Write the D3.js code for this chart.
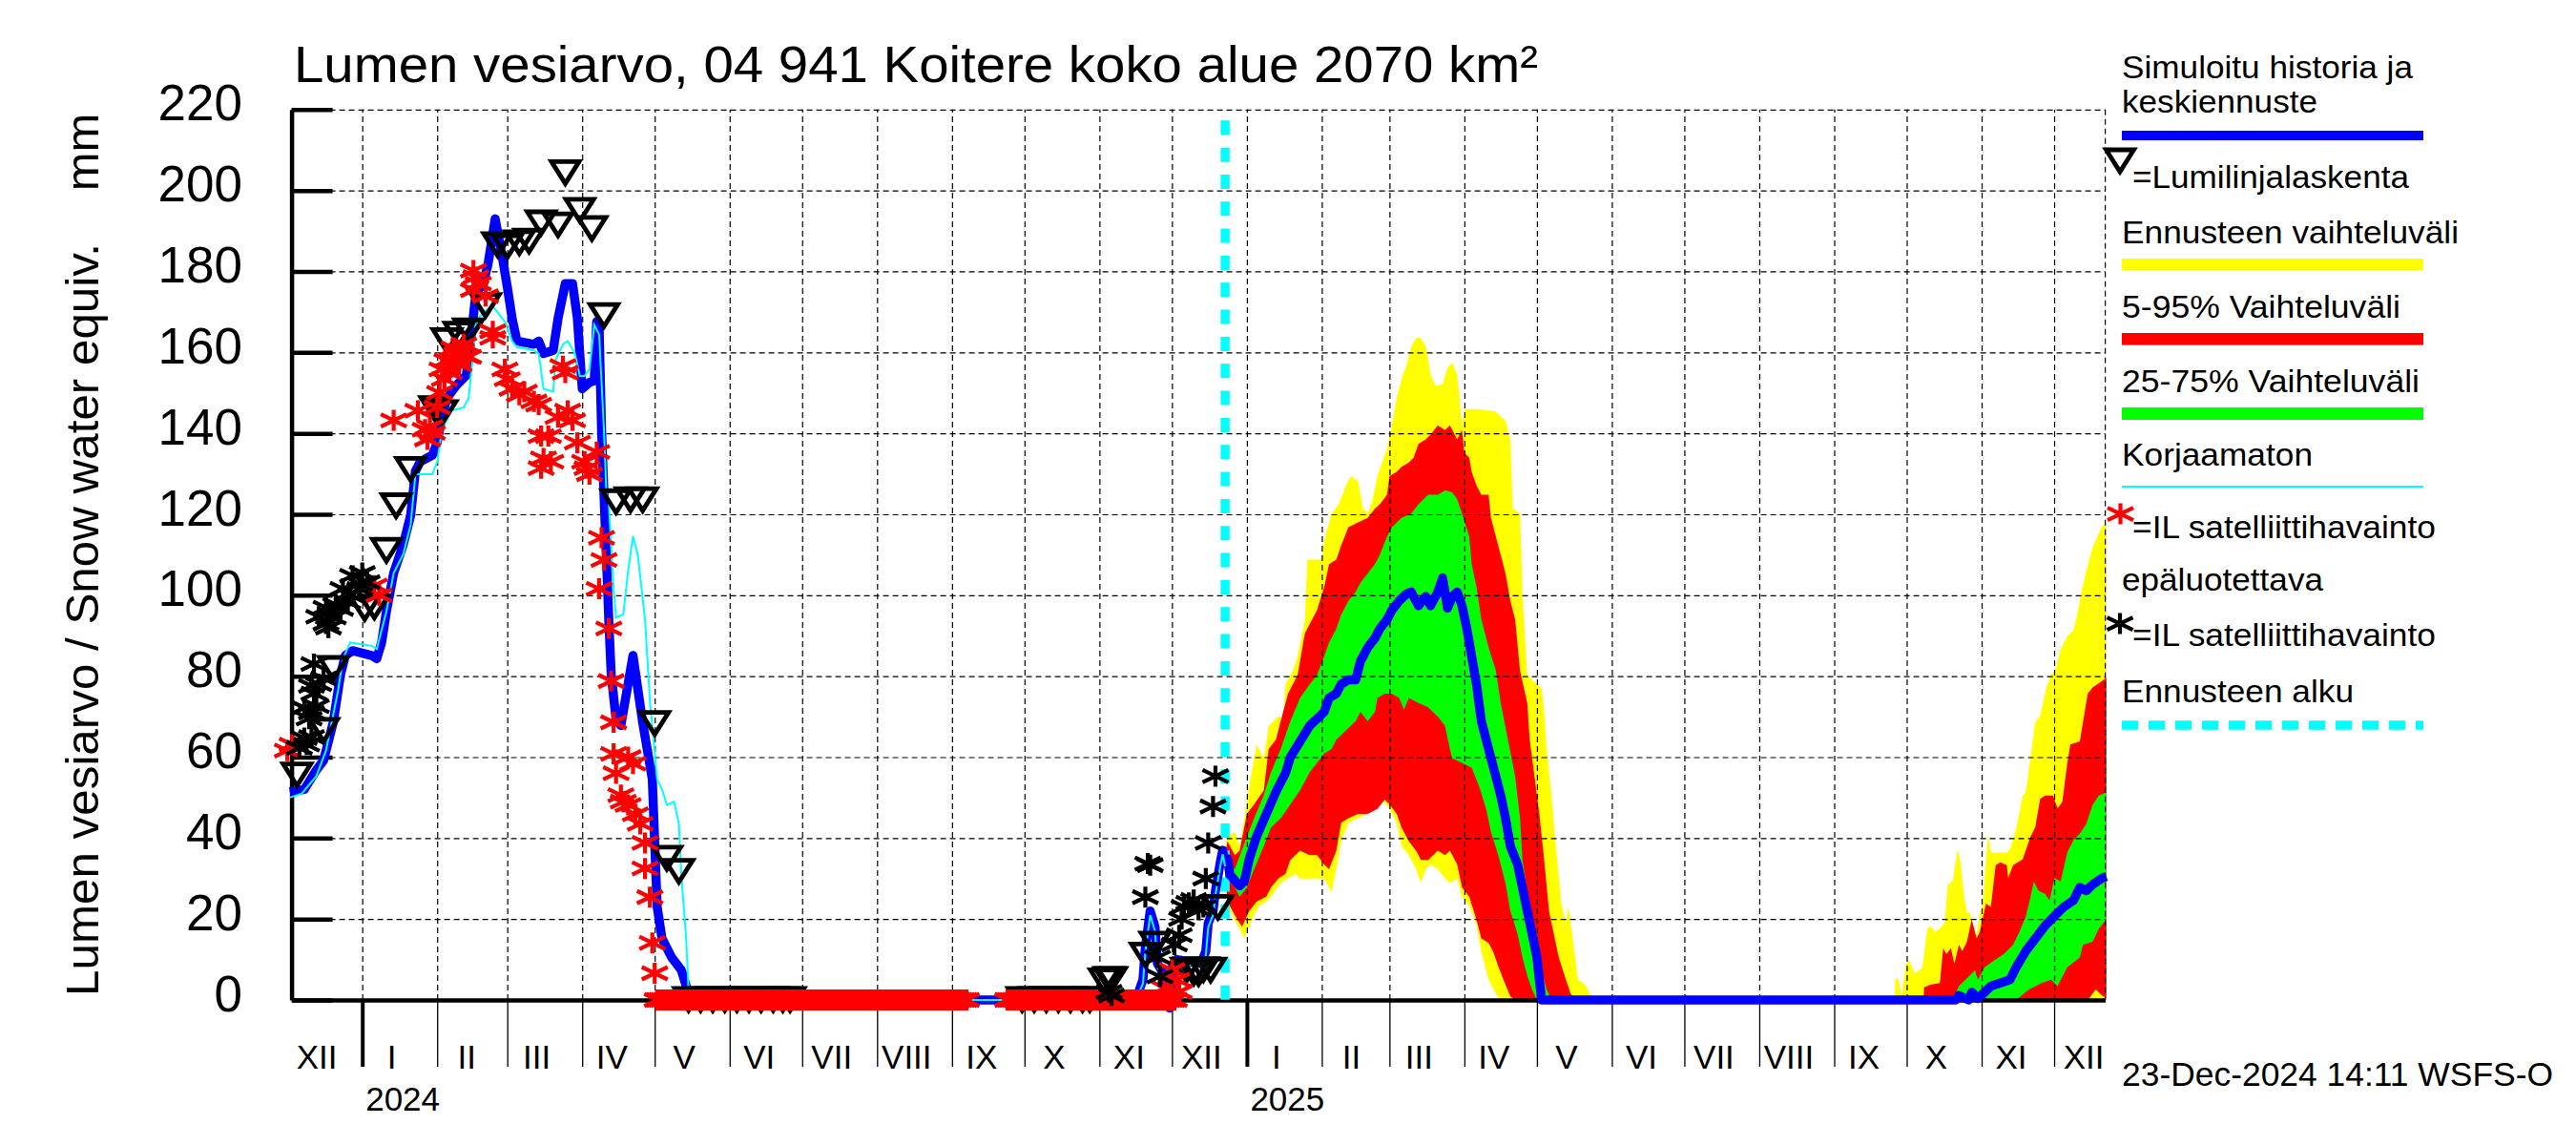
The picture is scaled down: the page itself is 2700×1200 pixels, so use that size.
<!DOCTYPE html>
<html><head><meta charset="utf-8">
<script src="https://cdn.jsdelivr.net/npm/d3@7"></script>
<style>
html,body{margin:0;padding:0;background:#fff;}
svg{display:block;background:#fff;}
text{font-family:"Liberation Sans",Arial,Helvetica,sans-serif;fill:#000;}
</style></head><body>
<svg id="chart" width="2700" height="1200"></svg>
<script>
// ---------------- DATA ----------------
const titleText = "Lumen vesiarvo, 04 941 Koitere koko alue 2070 km²";
const yAxisTitle = "Lumen vesiarvo / Snow water equiv.";
const yAxisUnit = "mm";
const yTicks = [0,20,40,60,80,100,120,140,160,180,200,220];
const monthLabels = ["XII","I","II","III","IV","V","VI","VII","VIII","IX","X","XI","XII","I","II","III","IV","V","VI","VII","VIII","IX","X","XI","XII"];
const yearLabels = [["2024-01-01","2024"],["2025-01-01","2025"]];
const forecastStart = "2024-12-23";
const stampText = "23-Dec-2024 14:11 WSFS-O";

// simulated history (blue)
const simHistory = [
["2023-12-02",51.4],["2023-12-08",52],["2023-12-13",56.8],["2023-12-16",59.2],["2023-12-20",68.6],["2023-12-23",80.4],["2023-12-25",85.1],["2023-12-28",86.3],["2024-01-05",85.1],["2024-01-07",84.3],["2024-01-09",88.3],["2024-01-11",96],["2024-01-14",105.5],["2024-01-18",112.6],["2024-01-21",119.7],["2024-01-23",130.7],["2024-01-25",133],["2024-01-30",134.6],["2024-02-01",137.7],["2024-02-03",144],["2024-02-05",148.7],["2024-02-09",151.9],["2024-02-13",154.3],["2024-02-14",158.1],["2024-02-16",169.1],["2024-02-17",174.6],["2024-02-20",177],["2024-02-22",181.7],["2024-02-25",193],["2024-02-28",183.3],["2024-03-01",176.2],["2024-03-03",168.4],["2024-03-05",162.8],["2024-03-12",162],["2024-03-14",162.8],["2024-03-16",159.7],["2024-03-20",160.5],["2024-03-22",168.4],["2024-03-25",177],["2024-03-28",177],["2024-03-30",168.4],["2024-04-01",151],["2024-04-04",152.6],["2024-04-06",153],["2024-04-07",167.6],["2024-04-08",166],["2024-04-09",140.9],["2024-04-10",125],["2024-04-11",109.5],["2024-04-12",93.8],["2024-04-13",80.4],["2024-04-15",69.4],["2024-04-17",67.8],["2024-04-22",85.1],["2024-04-26",68.6],["2024-04-30",54.5],["2024-05-01",38.8],["2024-05-02",23.1],["2024-05-04",15.2],["2024-05-08",10.5],["2024-05-12",7.4],["2024-05-14",3.5],["2024-05-15",1.9],["2024-05-17",0],["2024-11-16",0],["2024-11-19",5],["2024-11-20",13],["2024-11-22",22],["2024-11-24",18],["2024-11-25",9],["2024-11-28",6],["2024-11-30",-2],["2024-12-01",8],["2024-12-03",10],["2024-12-13",9],["2024-12-15",12],["2024-12-16",19],["2024-12-18",22],["2024-12-19",27],["2024-12-21",34],["2024-12-22",37],["2024-12-23",33]
];
// uncorrected (cyan)
const uncorrected = [
["2023-12-02",50],["2023-12-07",51],["2023-12-13",55.3],["2023-12-17",61.6],["2023-12-22",76.5],["2023-12-24",84.3],["2023-12-27",88.3],["2024-01-05",87.5],["2024-01-07",86.7],["2024-01-09",91.4],["2024-01-11",96],["2024-01-14",105.5],["2024-01-18",110.2],["2024-01-21",117.3],["2024-01-23",129.9],["2024-01-30",129.9],["2024-02-01",133],["2024-02-03",140.9],["2024-02-07",145.6],["2024-02-12",146.4],["2024-02-14",148.7],["2024-02-16",160.5],["2024-02-17",167.6],["2024-02-20",169.9],["2024-02-22",170.7],["2024-02-24",171.5],["2024-02-26",169.9],["2024-02-29",167.6],["2024-03-03",162.8],["2024-03-05",161.3],["2024-03-12",160.5],["2024-03-14",159.7],["2024-03-16",151],["2024-03-20",150.3],["2024-03-21",158.1],["2024-03-24",162],["2024-03-26",162.8],["2024-03-29",159.7],["2024-03-31",154.2],["2024-04-02",154.2],["2024-04-04",155.8],["2024-04-06",166.8],["2024-04-08",164.4],["2024-04-10",140.9],["2024-04-11",125.2],["2024-04-12",122.8],["2024-04-14",101.6],["2024-04-15",94.5],["2024-04-18",95.3],["2024-04-20",106],["2024-04-22",114.6],["2024-04-24",110],["2024-04-27",94],["2024-04-29",74.1],["2024-05-02",54.5],["2024-05-04",52.1],["2024-05-06",48.2],["2024-05-09",49],["2024-05-11",43.5],["2024-05-12",30.9],["2024-05-14",15.2],["2024-05-15",2.7],["2024-05-16",0],["2024-11-16",0],["2024-11-19",4],["2024-11-20",12],["2024-11-22",21],["2024-11-24",17],["2024-11-25",8],["2024-11-28",5],["2024-11-30",-1],["2024-12-01",8],["2024-12-03",9],["2024-12-13",8.5],["2024-12-15",11],["2024-12-16",18],["2024-12-18",21],["2024-12-19",26],["2024-12-21",33],["2024-12-22",36],["2024-12-23",33]
];
// snow line calculation (triangles)
const snowLine = [
["2023-12-05",55.5],["2023-12-16",66.5],["2023-12-20",81.8],["2024-01-02",96.6],["2024-01-06",97],["2024-01-11",111],["2024-01-15",122],["2024-01-21",131],["2024-01-31",146],["2024-02-03",145],["2024-02-05",162.8],["2024-02-10",164.4],["2024-02-14",165.2],["2024-02-21",171.5],["2024-02-26",186.5],["2024-03-01",186],["2024-03-06",187],["2024-03-10",187.4],["2024-03-15",191.9],["2024-03-22",191.4],["2024-03-25",204.3],["2024-03-31",195],["2024-04-05",190.5],["2024-04-10",169],["2024-04-15",123],["2024-04-21",123.5],["2024-04-26",123.5],["2024-05-01",68.2],["2024-05-06",34.9],["2024-05-11",31.7],
["2024-05-15",0],["2024-05-20",0],["2024-05-25",0],["2024-05-30",0],["2024-06-04",0],["2024-06-09",0],["2024-06-14",0],["2024-06-19",0],["2024-06-23",0],["2024-06-26",0],
["2024-09-30",0],["2024-10-05",0],["2024-10-10",0],["2024-10-15",0],["2024-10-20",0],["2024-10-25",0],["2024-10-28",0],
["2024-11-03",4.6],["2024-11-05",5],["2024-11-06",5],["2024-11-20",11],["2024-11-24",13.7],["2024-12-07",7.3],["2024-12-10",6.6],["2024-12-12",6.4],["2024-12-14",7.4],["2024-12-17",7.3],["2024-12-20",22.8]
];
// IL satellite observations (red)
const ilSatellite = [
["2023-12-01",61.6],["2023-12-03",63.1],["2024-01-06",102.4],["2024-01-08",100],
["2024-01-14",143.2],["2024-01-24",145.6],["2024-01-27",140.9],["2024-01-28",138.5],["2024-01-29",141.6],["2024-01-30",140.1],["2024-02-01",146.4],["2024-02-02",150],["2024-02-03",155.8],["2024-02-04",153.4],["2024-02-05",158],["2024-02-06",155],["2024-02-07",158.1],["2024-02-08",161],["2024-02-09",159.7],["2024-02-10",157],["2024-02-11",160.5],["2024-02-12",162],["2024-02-13",159],["2024-02-14",158.9],["2024-02-16",175.4],["2024-02-16",180.2],["2024-02-17",178.6],["2024-02-18",177],["2024-02-21",173.9],["2024-02-24",165.2],["2024-02-24",163.6],["2024-02-29",155.8],["2024-03-01",153.4],["2024-03-03",151],["2024-03-06",149.5],["2024-03-08",150.3],["2024-03-12",147.9],["2024-03-14",147.1],["2024-03-15",139.3],["2024-03-18",139.3],["2024-03-16",133.8],["2024-03-19",133],["2024-03-15",131.4],["2024-03-22",144],["2024-03-26",145.6],["2024-03-28",143.2],["2024-03-24",156.6],["2024-03-25",155],["2024-03-30",137.7],["2024-04-02",133],["2024-04-03",131.4],["2024-04-07",135.4],["2024-04-04",129.9],["2024-04-08",101.6],["2024-04-09",114.2],["2024-04-10",108.7],["2024-04-12",91.8],["2024-04-13",78.8],["2024-04-14",68.6],["2024-04-14",60.8],["2024-04-20",60],["2024-04-22",58.4],["2024-04-15",56],["2024-04-17",50.6],["2024-04-18",49],["2024-04-20",48.2],["2024-04-23",45.9],["2024-04-25",43.5],["2024-04-27",38.8],["2024-04-27",32.5],["2024-04-29",25.4],["2024-04-30",14.1],["2024-05-01",6.6],
["2024-11-28",3],["2024-12-01",7.4],["2024-12-03",5],["2024-12-04",2]
];
// periods with daily IL satellite observation = 0
const ilSatelliteZeroPeriods = [["2024-05-02","2024-09-07"],["2024-09-24","2024-12-02"]];
// IL satellite, unreliable (black)
const ilSatelliteUnreliable = [
["2023-12-06",62.3],["2023-12-08",64.7],["2023-12-08",72.2],["2023-12-09",63.1],["2023-12-10",69.5],["2023-12-11",65],["2023-12-11",71],["2023-12-11",77.6],["2023-12-12",75.7],["2023-12-12",83],["2023-12-13",72.6],["2023-12-14",78],["2023-12-14",94.7],["2023-12-16",79.4],["2023-12-17",93],["2023-12-17",96.9],["2023-12-18",92],["2023-12-20",94.5],["2023-12-21",97.7],["2023-12-23",96.6],["2023-12-24",101.6],["2023-12-26",98.3],["2023-12-27",100],["2023-12-28",104.8],["2023-12-31",101.6],["2023-12-31",102.8],["2024-01-01",105.5],["2024-01-03",103.2],
["2024-11-05",2],["2024-11-06",1.1],["2024-11-20",25.4],["2024-11-21",33.7],["2024-11-22",33.3],["2024-11-25",10.5],["2024-11-26",5.8],["2024-12-02",13.7],["2024-12-04",16],["2024-12-05",20],["2024-12-06",23],["2024-12-08",24],["2024-12-10",24.7],["2024-12-12",22.3],["2024-12-14",23],["2024-12-15",30],["2024-12-16",38.8],["2024-12-18",47.8],["2024-12-19",55.3]
];
// forecast: [day since 2025-01-01, value]
const fcMax = [[-9,38],[-8,40.3],[-5,41.5],[-3,38],[-1,44.9],[1,52.9],[4,63.2],[7,59.7],[9,67.7],[13,70],[15,70],[16,78],[19,81.4],[21,84.9],[24,94],[25,108.8],[31,108.8],[32,113.4],[33,115.7],[35,120.2],[38,122.5],[41,127.1],[43,129.4],[46,128.2],[48,121.4],[50,120.2],[52,123.7],[54,129.4],[58,136.2],[60,142],[62,148.8],[64,153.4],[66,156.8],[68,161.4],[70,163.6],[72,163.6],[74,161.4],[76,154.5],[78,151.7],[81,152.2],[83,156.2],[85,157.4],[87,154.5],[89,142],[90,146],[95,146],[103,145.4],[107,143.1],[109,138.5],[110,121.4],[113,120.2],[114,100.8],[116,80.3],[120,78],[122,76.9],[123,71.2],[124,62],[126,50.6],[128,36.9],[130,24.3],[132,18.6],[133,23.2],[135,14.1],[137,5],[140,3.8],[142,1.5],[144,0],
[268,0],[268.3,5.4],[269.6,5],[270.9,1.1],[272.9,9],[274.2,9.7],[276.2,6.6],[278.2,7.3],[279.5,8.1],[281.5,17.6],[282.8,18.3],[284.8,16.8],[286.7,17.6],[288.7,19.1],[290,28.5],[292,29.3],[294,37.2],[295.3,34],[296.6,26.2],[297.9,21.5],[299.2,21.5],[300.6,18.3],[301.9,16],[303.2,21.5],[304.5,23.8],[305.8,34.8],[306.7,41.1],[307.8,36.4],[314.4,36.4],[315.7,37.2],[317.7,41.1],[319,44.3],[321,50.5],[322.3,51.3],[324.2,60],[326.2,68.6],[328.2,70.2],[330.8,77.2],[332.8,80.4],[334.8,81.9],[336.7,86.7],[339.4,89.8],[342,91.4],[343.3,94.5],[345.3,100.8],[347.3,106],[350,112],[353.8,117],[355.6,118]];
const fcMin = [[-9,33],[-8,23.2],[-4,18.6],[-1,15.2],[2,19.8],[5,23.2],[8,24.3],[10,25.5],[14,28.9],[17,30],[20,31.2],[22,30],[32,30],[35,26.6],[37,32.3],[39,39.2],[42,43.8],[46,44.9],[50,46],[54,47.7],[57,48.9],[59,47.2],[62,43.8],[64,38],[67,35.8],[70,32.3],[72,28.9],[74,32.3],[76,33.5],[79,32.3],[82,30],[84,28.9],[87,30],[89,25.5],[92,23.2],[95,18.6],[97,11.8],[100,5],[103,1.5],[105,0],[355.6,0]];
const fc95 = [[-9,36],[-8,39.2],[-5,35.8],[-3,36.9],[0,46],[3,48.3],[7,51.8],[9,62],[12,64.3],[14,68.9],[17,75.7],[21,80.3],[24,90.6],[26,92.9],[29,96.3],[32,102],[34,107.7],[37,108.8],[39,112.3],[42,116.8],[46,118],[50,119.1],[53,121.4],[55,122.5],[58,124.8],[59,129.4],[62,130.5],[64,131.7],[67,132.8],[69,134],[71,137.4],[74,138.5],[76,139.7],[79,142],[82,140.8],[84,142],[87,138.5],[89,140.8],[90,135.1],[92,134],[93,130.5],[95,127.1],[97,124.8],[100,124.8],[101,119.1],[104,112.3],[107,105.4],[109,98.6],[111,94],[113,81.4],[116,73.4],[117,64.3],[119,55.2],[121,46],[123,34.6],[125,22],[127,16.3],[129,10.6],[132,5],[134,1.5],[136,0],
[280,0],[280.2,3.1],[282.8,3.8],[286.7,4.2],[288.1,12.8],[289.4,11.3],[291.3,12.8],[292.7,8.9],[294.6,13.6],[296,12.1],[297.9,14.4],[299.9,19.9],[301.9,15.2],[303.2,16.8],[305.8,23.8],[307.8,23],[309.8,33.3],[311.7,34],[314.4,33.3],[315,30.1],[317,33.3],[321,34.8],[324.2,40.3],[326.2,42.7],[328.2,49.7],[330.2,50.5],[333.5,50.5],[335.4,47.4],[337.4,49],[339.4,58.4],[340.7,63.1],[344.6,63.9],[347.9,75.7],[349.9,77.2],[353.8,78.8],[355.6,79.6]];
const fc05 = [[-9,31],[-8,24.3],[-5,20.9],[-2,18.1],[1,22],[4,24.3],[8,25.5],[10,27.8],[13,30],[16,31.2],[18,34.6],[22,36.9],[26,35.8],[29,35.8],[32,33.5],[34,32.3],[37,36.9],[39,43.8],[42,44.9],[46,46],[50,46],[54,47.2],[57,49.5],[59,48.3],[62,46],[64,42.6],[67,39.2],[70,36.9],[72,34.6],[75,34.6],[79,36.9],[82,35.8],[84,36.9],[87,33.5],[89,27.8],[92,25.5],[95,19.8],[97,15.2],[100,14.1],[102,11.8],[104,8.3],[107,3.8],[109,0.9],[111,0],[347.9,0],[351.2,2.6],[353.8,1.1],[355.6,0.5]];
const fc75 = [[-9,34],[-8,34.6],[-5,32.3],[0,40.3],[3,44.9],[7,50.6],[10,56.3],[14,62],[18,68.9],[22,74.6],[26,78],[29,80.3],[32,84.9],[34,88.3],[37,91.7],[39,95.1],[42,98.6],[45,100.8],[47,103.1],[50,105.4],[53,107.7],[55,110],[58,114.5],[60,116.8],[64,119.1],[68,120.2],[71,122.5],[75,124.8],[79,124.8],[82,125.9],[85,125.4],[87,123.7],[89,120.2],[92,114.5],[93,107.7],[95,102],[97,94],[100,87.1],[103,81.4],[105,73.4],[108,64.3],[111,55.2],[113,44.9],[114,34.6],[117,23.2],[120,14.1],[122,7.2],[124,2.6],[126,0],
[292,0],[294.6,3.4],[298.6,5.8],[301.2,7.3],[302.5,5],[305.2,8.1],[309.1,9.7],[313.1,11.3],[317,13.6],[319.6,16.8],[322.3,20.7],[324.2,25.4],[325.6,29.3],[327.5,27],[330.2,26.2],[332.1,24.6],[334.1,30.1],[336.7,29.3],[339.4,36.4],[342,39.5],[344.6,41.1],[347.3,43.5],[349.9,48.2],[352.5,50.5],[355.6,51.3]];
const fc25 = [[-9,32],[-8,31.2],[-5,27.8],[-3,25.5],[0,27.8],[3,32.3],[7,38],[10,42.6],[14,44.9],[18,48.3],[22,51.8],[26,56.3],[29,58.6],[32,60.9],[35,62],[37,64.3],[41,66.6],[45,68.9],[47,71.2],[50,68.9],[53,71.2],[54,74.6],[57,75.7],[60,75.7],[63,74.6],[65,71.7],[67,74.6],[71,73.4],[75,72.3],[79,70],[82,67.7],[84,62],[85,59.7],[89,58.6],[93,57.4],[96,52.9],[99,47.2],[101,41.5],[104,35.8],[107,28.9],[109,22],[112,16.3],[114,10.6],[116,6],[118,2.6],[120,0],[318.3,0],[323.6,2.6],[328.8,4.2],[332.8,5],[335.4,3.4],[339.4,8.1],[344.6,10.5],[345.9,13.6],[349.9,14.4],[352.5,17.6],[355.6,19.9]];
const fcMedian = [[-9,33],[-8,34.9],[-7,30.9],[-3,28.2],[-1,29.4],[1,34.9],[4,40.4],[8,45.9],[12,51.4],[16,56.1],[18,60],[22,63.9],[26,67.8],[30,70],[32,71.2],[34,74.6],[37,75.7],[39,78],[42,79.1],[45,79.1],[47,83.7],[50,87.1],[53,89.4],[55,91.7],[58,94],[60,96.3],[63,98.6],[66,100.3],[68,100.8],[71,97.4],[74,99.7],[76,97.4],[79,100.8],[81,104.3],[83,96.8],[85,99.7],[87,100.8],[89,97.4],[91,91.7],[93,84.9],[95,78],[97,68.9],[100,62],[103,55.2],[105,50.6],[107,44.9],[109,38],[112,33.5],[114,27.8],[116,22],[118,16.3],[120,10.6],[121,5],[122,0],
[293.3,0],[294.6,1.1],[298.6,0],[299.9,1.9],[302.5,0.4],[305.2,1.9],[307.8,3.4],[311.7,4.2],[315.7,5],[318.3,8.1],[322.3,12.1],[326.2,15.2],[330.2,18.3],[334.1,20.7],[338.1,23],[342,24.6],[344.6,27.8],[347.3,27],[349.9,28.5],[353.8,30.1],[355.6,30.5]];

const legendItems = [
  {text:"Simuloitu historia ja", x:2224, y:82, w:305},
  {text:"keskiennuste", x:2224, y:118, w:205},
  {text:"=Lumilinjalaskenta", x:2235, y:197, w:290},
  {text:"Ennusteen vaihteluväli", x:2224, y:254.5, w:353},
  {text:"5-95% Vaihteluväli", x:2224, y:333, w:292},
  {text:"25-75% Vaihteluväli", x:2224, y:411, w:312},
  {text:"Korjaamaton", x:2224, y:488, w:200},
  {text:"=IL satelliittihavainto", x:2235, y:564, w:318},
  {text:"epäluotettava", x:2224, y:619, w:211},
  {text:"=IL satelliittihavainto", x:2235, y:676.5, w:318},
  {text:"Ennusteen alku", x:2224, y:736, w:243}
];

// ---------------- CHART ----------------
const svg = d3.select("#chart");
const parse = d3.utcParse("%Y-%m-%d");
const DAY = 864e5;
const fcBase = Date.UTC(2025,0,1);
const fcDate = d => new Date(fcBase + d*DAY);

const X0=305.6, X1=2206.6, Y0=1048, Y1=114.8;
const xa = d3.scaleUtc().domain([new Date(Date.UTC(2024,0,1)), new Date(Date.UTC(2025,0,1))]).range([379.7,1306.9]);
const x = d3.scaleUtc().domain([xa.invert(X0), xa.invert(X1)]).range([X0,X1]);
const y = d3.scaleLinear().domain([0,220]).range([Y0,Y1]);

svg.append("rect").attr("width",2700).attr("height",1200).attr("fill","#fff");

// bands
function bandPath(top, bottom){
  const pts = top.map(p=>[x(fcDate(p[0])), y(p[1])])
    .concat(bottom.slice().reverse().map(p=>[x(fcDate(p[0])), y(p[1])]));
  return d3.line()(pts) + "Z";
}
svg.append("path").attr("d", bandPath(fcMax, fcMin)).attr("fill","#ffff00");
svg.append("path").attr("d", bandPath(fc95, fc05)).attr("fill","#ff0000");
svg.append("path").attr("d", bandPath(fc75, fc25)).attr("fill","#00ff00");

// grid
const gridY = svg.append("g").attr("transform",`translate(${X0},0)`)
  .call(d3.axisLeft(y).tickValues(yTicks.filter(v=>v>0)).tickSize(-(X1-X0)).tickFormat(""));
gridY.select(".domain").remove();
gridY.selectAll(".tick line").attr("stroke","#000").attr("stroke-width",1.2).attr("stroke-dasharray","6,4");

const monthStarts = d3.utcMonth.range(new Date(Date.UTC(2024,0,1)), new Date(Date.UTC(2026,0,1)));
const gridX = svg.append("g").attr("transform",`translate(0,${Y0})`)
  .call(d3.axisBottom(x).tickValues(monthStarts).tickSize(-(Y0-Y1)).tickFormat(""));
gridX.select(".domain").remove();
gridX.selectAll(".tick line").attr("stroke","#000").attr("stroke-width",1.2).attr("stroke-dasharray","6,4");
svg.append("line").attr("x1",X1).attr("x2",X1).attr("y1",Y1).attr("y2",Y0)
  .attr("stroke","#000").attr("stroke-width",1.2).attr("stroke-dasharray","6,4");

// x axis (month boundaries below the axis)
const xAxisG = svg.append("g").attr("transform",`translate(0,${Y0})`)
  .call(d3.axisBottom(x).tickValues(monthStarts).tickSize(70).tickSizeOuter(0).tickFormat(""));
xAxisG.select(".domain").attr("stroke","#000").attr("stroke-width",4.5);
xAxisG.selectAll(".tick line").attr("stroke","#000")
  .attr("stroke-width", d => d.getUTCMonth()===0 ? 4 : 1.3);

// month labels
const labelMonths = d3.utcMonth.range(new Date(Date.UTC(2023,11,1)), new Date(Date.UTC(2026,0,1)));
svg.append("g").selectAll("text").data(labelMonths).join("text")
  .attr("x", (d)=> x(d) + 31)
  .attr("y", 1120)
  .attr("text-anchor","middle")
  .attr("font-size",35)
  .text((d,i)=>monthLabels[i]);
svg.append("g").selectAll("text").data(yearLabels).join("text")
  .attr("x", d=> x(parse(d[0])) + 3.5)
  .attr("y", 1164)
  .attr("font-size",35)
  .text(d=>d[1]);

// y axis
const yAxisG = svg.append("g").attr("transform",`translate(${X0},0)`)
  .call(d3.axisLeft(y).tickValues(yTicks).tickSizeInner(-43).tickSizeOuter(0).tickPadding(51.6));
yAxisG.select(".domain").attr("stroke","#000").attr("stroke-width",4.5);
yAxisG.selectAll(".tick line").attr("stroke","#000").attr("stroke-width",4.5);
yAxisG.selectAll(".tick text").attr("font-size",53).attr("dy","0.21em")
  .attr("font-family",'"Liberation Sans",Arial,sans-serif').attr("fill","#000");

// forecast start
svg.append("line").attr("x1",x(parse(forecastStart))).attr("x2",x(parse(forecastStart)))
  .attr("y1",126.3).attr("y2",Y0).attr("stroke","#00ffff").attr("stroke-width",9.5)
  .attr("stroke-dasharray","15,13.33");

// lines
const lineD = d3.line().x(d=>x(parse(d[0]))).y(d=>y(d[1]));
const lineF = d3.line().x(d=>x(fcDate(d[0]))).y(d=>y(d[1]));
svg.append("path").attr("d", lineD(simHistory)).attr("fill","none").attr("stroke","#0000ff").attr("stroke-width",9.5).attr("stroke-linejoin","round");
svg.append("path").attr("d", lineF(fcMedian)).attr("fill","none").attr("stroke","#0000ff").attr("stroke-width",9.5).attr("stroke-linejoin","round");
svg.append("path").attr("d", lineD(uncorrected)).attr("fill","none").attr("stroke","#00ffff").attr("stroke-width",2);

// markers
const triPath = "M-14.5,-12L14.5,-12L0,11Z";
const starPath = "M0,-11V11M-13.5,-6.5L13.5,6.5M-13.5,6.5L13.5,-6.5";

svg.append("g").selectAll("path").data(snowLine).join("path")
  .attr("transform", d=>`translate(${x(parse(d[0]))},${y(d[1])})`)
  .attr("d", triPath).attr("fill","none").attr("stroke","#000").attr("stroke-width",4.8)
  .attr("stroke-linejoin","miter");

const zeroObs = [];
ilSatelliteZeroPeriods.forEach(p=>{
  d3.utcDay.range(parse(p[0]), d3.utcDay.offset(parse(p[1]),1)).forEach(dt=>zeroObs.push([dt,0]));
});
const redG = svg.append("g");
redG.selectAll("path.z").data(zeroObs).join("path").attr("class","z")
  .attr("transform", d=>`translate(${x(d[0])},${y(d[1])})`)
  .attr("d", starPath).attr("stroke","#ff0000").attr("stroke-width",4.2).attr("fill","none");
redG.selectAll("path.o").data(ilSatellite).join("path").attr("class","o")
  .attr("transform", d=>`translate(${x(parse(d[0]))},${y(d[1])})`)
  .attr("d", starPath).attr("stroke","#ff0000").attr("stroke-width",4.2).attr("fill","none");

svg.append("g").selectAll("path").data(ilSatelliteUnreliable).join("path")
  .attr("transform", d=>`translate(${x(parse(d[0]))},${y(d[1])})`)
  .attr("d", starPath).attr("stroke","#000").attr("stroke-width",4.2).attr("fill","none");

// title
svg.append("text").attr("x",308).attr("y",86).attr("font-size",54)
  .attr("textLength",1304).attr("lengthAdjust","spacingAndGlyphs").text(titleText);

// y axis title
svg.append("text").attr("transform","translate(103,1044) rotate(-90)").attr("font-size",49)
  .attr("textLength",789).attr("lengthAdjust","spacingAndGlyphs").text(yAxisTitle);
svg.append("text").attr("transform","translate(103,118.6) rotate(-90)").attr("font-size",49)
  .attr("text-anchor","end").text(yAxisUnit);

// legend
svg.append("g").selectAll("text").data(legendItems).join("text")
  .attr("x",d=>d.x).attr("y",d=>d.y).attr("font-size",34)
  .attr("textLength",d=>d.w).attr("lengthAdjust","spacingAndGlyphs").text(d=>d.text);
svg.append("rect").attr("x",2224).attr("y",137).attr("width",316).attr("height",10).attr("fill","#0000ff");
svg.append("path").attr("transform","translate(2222,169)").attr("d",triPath).attr("fill","none").attr("stroke","#000").attr("stroke-width",4.8);
svg.append("rect").attr("x",2224).attr("y",271).attr("width",316).attr("height",12).attr("fill","#ffff00");
svg.append("rect").attr("x",2224).attr("y",349).attr("width",316).attr("height",12.6).attr("fill","#ff0000");
svg.append("rect").attr("x",2224).attr("y",427).attr("width",316).attr("height",13).attr("fill","#00ff00");
svg.append("rect").attr("x",2224).attr("y",509).attr("width",316).attr("height",2).attr("fill","#00ffff");
svg.append("path").attr("transform","translate(2222.5,538.6)").attr("d",starPath).attr("fill","none").attr("stroke","#ff0000").attr("stroke-width",4.2);
svg.append("path").attr("transform","translate(2222,653.6)").attr("d",starPath).attr("fill","none").attr("stroke","#000").attr("stroke-width",4.2);
svg.append("line").attr("x1",2224).attr("x2",2540).attr("y1",760).attr("y2",760)
  .attr("stroke","#00ffff").attr("stroke-width",9.5).attr("stroke-dasharray","17,11");

svg.append("text").attr("x",2224).attr("y",1138).attr("font-size",35)
  .attr("textLength",452).attr("lengthAdjust","spacingAndGlyphs").text(stampText);
</script></body></html>
